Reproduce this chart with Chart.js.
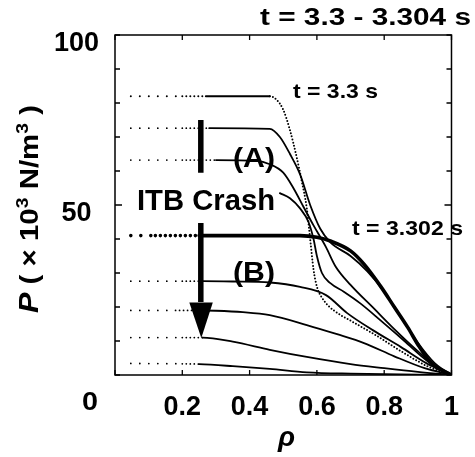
<!DOCTYPE html>
<html>
<head>
<meta charset="utf-8">
<script src="https://cdn.jsdelivr.net/npm/chart.js@4.4.1/dist/chart.umd.min.js"></script>
<style>
  html, body { margin: 0; padding: 0; background: #fff; }
  #wrap { width: 475px; height: 457px; }
</style>
</head>
<body>
<div id="wrap"><canvas id="c" width="475" height="457"></canvas></div>
<script>
// Pressure profiles P(rho), t = 3.3 .. 3.304 s (x10^3 N/m^3)
const rho1 = [0.047, 0.2, 0.27, 0.46, 0.48, 0.5, 0.52, 0.54, 0.555, 0.57, 0.58, 0.59, 0.6, 0.62, 0.65, 0.7, 0.77, 0.85, 0.93, 1.0];
const p1   = [82, 82, 82, 82, 81, 78, 72, 64, 57, 49, 40, 31, 26, 22, 19, 16, 12, 7, 2.5, 0];

const rho2 = [0.047, 0.2, 0.28, 0.46, 0.49, 0.52, 0.55, 0.58, 0.61, 0.64, 0.7, 0.75, 0.8, 0.85, 0.9, 0.95, 1.0];
const p2   = [72.6, 72.6, 72.6, 72.4, 70, 65, 59, 50, 43, 39, 35, 30.5, 24.5, 17, 9.5, 3.5, 0];

const rho3 = [0.047, 0.2, 0.3, 0.42, 0.46, 0.5, 0.53, 0.56, 0.59, 0.627, 0.655, 0.7, 0.77, 0.83, 0.9, 0.95, 1.0];
const p3   = [63.2, 63.2, 63.2, 63, 62, 59.5, 55, 49.5, 44, 37.6, 32, 26.5, 19.5, 13.5, 7, 2.8, 0];

const rho4 = [0.49, 0.52, 0.55, 0.575, 0.59, 0.6, 0.615, 0.64, 0.68, 0.73, 0.79, 0.86, 0.93, 1.0];
const p4   = [53.5, 52, 49, 45, 40, 35, 30, 27, 24.5, 21, 16, 10, 4, 0];

// t = 3.302 s (thick)
const rho5 = [0.047, 0.12, 0.25, 0.55, 0.6, 0.64, 0.7, 0.74, 0.79, 0.83, 0.87, 0.905, 0.94, 1.0];
const p5   = [41, 41, 41, 41, 40.5, 39.4, 36.5, 32.6, 26, 20, 14, 8.2, 3.5, 0];

const rho6 = [0.047, 0.2, 0.26, 0.35, 0.46, 0.55, 0.627, 0.69, 0.766, 0.85, 0.925, 1.0];
const p6   = [27.6, 27.6, 27.6, 27.5, 27.2, 25.9, 23.5, 18.2, 13.2, 8.2, 3.5, 0];

const rho7 = [0.047, 0.18, 0.24, 0.3, 0.38, 0.46, 0.57, 0.66, 0.74, 0.83, 0.92, 1.0];
const p7   = [19, 19, 19, 18.9, 18.5, 17.6, 14.7, 12, 9.4, 5.5, 2, 0];

const rho8 = [0.047, 0.2, 0.26, 0.35, 0.46, 0.57, 0.7, 0.8, 0.9, 1.0];
const p8   = [11, 11, 11, 9.8, 7.4, 5.3, 3.2, 2, 0.9, 0];

const rho9 = [0.047, 0.2, 0.25, 0.35, 0.46, 0.57, 0.7, 1.0];
const p9   = [3.4, 3.3, 3.2, 2.6, 1.8, 0.8, 0.4, 0];

const xTickLabels = ['0.2', '0.4', '0.6', '0.8', '1'];
const yTickLabels = ['50', '100'];

const toPts = (r, p) => r.map((x, i) => ({ x: x, y: p[i] }));

// dotted zones: [rho end, dot gap] (0 = solid)
function curve(r, p, zones, width) {
    return {
        data: toPts(r, p),
        borderColor: '#000',
        borderWidth: width || 1.8,
        borderCapStyle: 'round',
        pointRadius: 0,
        cubicInterpolationMode: 'monotone',
        segment: {
            borderDash: c => {
                const x0 = c.p0.parsed.x;
                for (const [end, gap] of zones) {
                    if (x0 < end - 1e-9) return gap ? [0, gap] : undefined;
                }
                return undefined;
            }
        }
    };
}

const datasets = [
    curve(rho1, p1, [[0.2, 9], [0.27, 4], [0.46, 0], [2, 3.2]], 2),
    curve(rho2, p2, [[0.2, 9], [0.28, 4], [2, 0]]),
    curve(rho3, p3, [[0.2, 9], [0.3, 4], [2, 0]]),
    curve(rho4, p4, [[2, 0]]),
    curve(rho5, p5, [[0.12, 10], [0.25, 5], [2, 0]], 3.6),
    curve(rho6, p6, [[0.2, 9], [0.26, 4], [2, 0]]),
    curve(rho7, p7, [[0.18, 9], [0.24, 4], [2, 0]]),
    curve(rho8, p8, [[0.2, 9], [0.26, 4], [2, 0]]),
    curve(rho9, p9, [[0.2, 9], [0.25, 4], [2, 0]])
];

const FONT = '"Liberation Sans", Arial, Helvetica, sans-serif';

// text squeezed/stretched to a width
function fitText(ctx, text, font, left, base, width) {
    ctx.font = font;
    const w = ctx.measureText(text).width;
    ctx.save();
    ctx.translate(left, base);
    ctx.scale(width / w, 1);
    ctx.fillText(text, 0, 0);
    ctx.restore();
}

const framePlugin = {
    id: 'frame',
    beforeDraw(chart) {
        const ctx = chart.ctx;
        ctx.save();
        ctx.fillStyle = '#fff';
        ctx.fillRect(0, 0, chart.width, chart.height);
        ctx.restore();
    },
    afterDatasetsDraw(chart) {
        const ctx = chart.ctx;
        const a = chart.chartArea;
        const xs = chart.scales.x, ys = chart.scales.y;
        ctx.save();
        ctx.strokeStyle = '#000';
        ctx.fillStyle = '#000';
        ctx.lineWidth = 1.5;
        ctx.strokeRect(a.left, a.top, a.right - a.left, a.bottom - a.top);

        // inward ticks on all four sides
        ctx.lineWidth = 1.3;
        ctx.beginPath();
        ys.ticks.forEach(t => {
            const y = ys.getPixelForValue(t.value);
            const len = t.value === 50 ? 7 : 5;
            ctx.moveTo(a.left, y); ctx.lineTo(a.left + len, y);
            ctx.moveTo(a.right, y); ctx.lineTo(a.right - len, y);
        });
        xs.ticks.forEach(t => {
            const x = xs.getPixelForValue(t.value);
            ctx.moveTo(x, a.bottom); ctx.lineTo(x, a.bottom - 5);
            ctx.moveTo(x, a.top); ctx.lineTo(x, a.top + 5);
        });
        ctx.stroke();

        // crash markers
        const xm = xs.getPixelForValue(0.255);
        ctx.lineWidth = 5.5;
        ctx.lineCap = 'butt';
        ctx.beginPath();
        ctx.moveTo(xm, ys.getPixelForValue(75));
        ctx.lineTo(xm, ys.getPixelForValue(59.5));
        ctx.moveTo(xm, ys.getPixelForValue(44.7));
        ctx.lineTo(xm, ys.getPixelForValue(21.5));
        ctx.stroke();
        const yh = ys.getPixelForValue(21.3), yt = ys.getPixelForValue(10.9);
        ctx.beginPath();
        ctx.moveTo(xm - 11.5, yh);
        ctx.lineTo(xm + 12, yh);
        ctx.lineTo(xm + 0.5, yt);
        ctx.closePath();
        ctx.fill();

        // annotations
        ctx.textAlign = 'left';
        ctx.textBaseline = 'alphabetic';
        fitText(ctx, 't = 3.3 - 3.304 s', 'bold 23px ' + FONT, 260, 25, 211);
        fitText(ctx, 't = 3.3 s', 'bold 21px ' + FONT, 293, 98, 85);
        fitText(ctx, 't = 3.302 s', 'bold 21px ' + FONT, 352, 235, 111);
        fitText(ctx, '(A)', 'bold 27px ' + FONT, 233, 167, 42);
        fitText(ctx, '(B)', 'bold 27px ' + FONT, 233, 281, 42);
        fitText(ctx, 'ITB Crash', 'bold 29px ' + FONT, 137, 210, 138);
        fitText(ctx, '0', 'bold 26px ' + FONT, 82, 410, 16);
        fitText(ctx, 'ρ', 'italic bold 27px ' + FONT, 278, 446, 17);

        // y axis title, rotated, with superscripts
        const runs = [
            { t: 'P', f: 'italic bold 27px ' + FONT, dy: 0 },
            { t: ' ( × 10', f: 'bold 26px ' + FONT, dy: 0 },
            { t: '3', f: 'bold 17px ' + FONT, dy: -10 },
            { t: ' N/m', f: 'bold 26px ' + FONT, dy: 0 },
            { t: '3', f: 'bold 17px ' + FONT, dy: -10 },
            { t: ' )', f: 'bold 26px ' + FONT, dy: 0 }
        ];
        let total = 0;
        runs.forEach(r => { ctx.font = r.f; r.w = ctx.measureText(r.t).width; total += r.w; });
        ctx.save();
        ctx.translate(38, 313);
        ctx.rotate(-Math.PI / 2);
        ctx.scale(208 / total, 1);
        let px = 0;
        runs.forEach(r => { ctx.font = r.f; ctx.fillText(r.t, px, r.dy); px += r.w; });
        ctx.restore();

        ctx.restore();
    }
};

new Chart(document.getElementById('c'), {
    type: 'line',
    data: { datasets: datasets },
    options: {
        responsive: false,
        animation: false,
        devicePixelRatio: 1,
        layout: { padding: { top: 35, right: 1, left: 0, bottom: 0 } },
        plugins: { legend: { display: false }, tooltip: { enabled: false } },
        scales: {
            x: {
                type: 'linear',
                min: 0, max: 1,
                afterFit: s => { s.height = 82; },
                grid: { display: false, drawTicks: false },
                border: { display: false },
                ticks: {
                    stepSize: 0.2,
                    autoSkip: false,
                    maxRotation: 0,
                    padding: 16,
                    color: '#000',
                    font: { family: FONT, size: 27, weight: 'bold' },
                    callback: v => {
                        const s = Math.abs(v - 1) < 1e-6 ? '1' : v.toFixed(1);
                        return xTickLabels.includes(s) ? s : '';
                    }
                }
            },
            y: {
                type: 'linear',
                min: 0, max: 100,
                afterFit: s => { s.width = 115; },
                grid: { display: false, drawTicks: false },
                border: { display: false },
                ticks: {
                    stepSize: 10,
                    autoSkip: false,
                    padding: 16,
                    crossAlign: 'center',
                    labelOffset: 9,
                    color: '#000',
                    font: { family: FONT, size: 27, weight: 'bold' },
                    callback: v => yTickLabels.includes(String(v)) ? String(v) : ''
                }
            }
        }
    },
    plugins: [framePlugin]
});
</script>
</body>
</html>
